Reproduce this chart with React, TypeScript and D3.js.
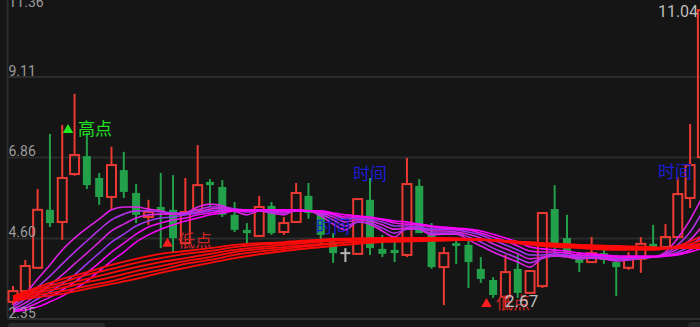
import React from 'react';
import * as d3 from 'd3';

// ---- axis ticks ----
const yTicks = [2.35, 4.6, 6.86, 9.11, 11.36];

// ---- candles (57) ----
const open = [2.83,3.13,3.78,5.40,5.06,6.40,6.90,6.29,5.76,6.51, 5.87,5.20,5.48,5.40,4.47,5.40,6.18,6.04,5.26,4.84, 4.67,5.51,4.78,5.06,5.79,5.31,4.50,4.19,4.17,5.68, 4.31,4.28,4.14,6.07,4.70,3.80,4.47,4.42,3.75,3.44, 2.97,3.75,3.08,3.27,5.42,4.61,4.08,3.94,4.19,3.94, 3.78,4.03,4.45,4.36,4.64,5.73,6.87];
const high = [3.27,4.00,5.98,7.52,7.77,8.64,7.55,6.43,7.16,7.02, 6.12,5.68,6.43,6.37,6.29,7.21,6.26,6.23,5.62,5.03, 5.79,5.62,5.20,6.15,6.15,5.40,4.75,4.33,5.70,6.29, 4.70,4.50,6.85,6.26,5.03,4.36,4.56,4.61,4.08,3.52, 4.14,4.14,3.69,5.31,6.09,5.26,4.22,4.64,4.28,4.14, 4.22,4.64,4.98,5.00,6.32,7.80,11.04];
const low = [2.74,3.10,3.76,4.92,4.56,6.35,5.98,5.54,5.40,5.73, 5.03,4.98,4.33,4.19,4.42,5.31,5.48,5.20,4.78,4.47, 4.67,4.70,4.70,5.03,5.15,4.42,3.92,3.94,4.17,4.14, 4.08,3.94,4.08,4.75,3.75,2.74,3.89,3.22,3.36,2.94, 2.67,2.94,3.08,3.22,4.19,4.14,3.66,3.92,3.89,2.99, 3.72,3.64,4.36,4.36,4.64,5.45,6.85];
const close = [3.13,3.83,5.40,5.03,6.29,6.93,6.09,5.76,6.65,5.90, 5.26,5.34,5.34,4.61,5.34,6.09,6.09,5.26,4.84,4.75, 5.48,4.75,5.03,5.87,5.31,4.70,4.19,4.19,5.70,4.33, 4.17,4.19,6.12,4.75,3.80,4.19,4.39,3.94,3.47,3.02, 3.66,3.08,3.69,5.31,4.45,4.19,3.92,4.19,4.00,3.80, 4.03,4.45,4.36,4.64,5.84,6.65,10.98];

// ---- short-term moving average group (every candle) ----
const maS1 = [2.74,3.05,3.47,3.86,4.28,4.61,4.89,5.14,5.40,5.48, 5.48,5.42,5.37,5.28,5.31,5.48,5.56,5.51,5.37,5.26, 5.37,5.31,5.26,5.40,5.37,5.23,5.00,4.84,5.06,5.00, 4.81,4.64,4.89,4.86,4.70,4.72,4.72,4.56,4.39,4.22, 4.08,3.94,3.80,4.05,4.11,4.08,4.03,4.05,4.03,3.97, 4.00,4.08,4.08,4.22,4.61,5.12,5.76];
const maS2 = [2.69,2.91,3.24,3.55,3.89,4.22,4.53,4.84,5.12,5.28, 5.37,5.37,5.34,5.31,5.31,5.40,5.48,5.48,5.42,5.34, 5.37,5.34,5.31,5.37,5.37,5.28,5.12,4.95,5.06,5.03, 4.89,4.75,4.86,4.86,4.75,4.75,4.75,4.64,4.50,4.33, 4.19,4.05,3.92,4.05,4.11,4.11,4.05,4.05,4.05,4.00, 4.00,4.05,4.08,4.17,4.42,4.78,5.34];
const maS3 = [2.63,2.80,3.05,3.30,3.58,3.89,4.19,4.50,4.81,5.00, 5.17,5.26,5.28,5.28,5.28,5.34,5.42,5.45,5.42,5.37, 5.37,5.37,5.34,5.37,5.37,5.31,5.20,5.06,5.12,5.09, 4.98,4.86,4.89,4.89,4.81,4.81,4.78,4.72,4.61,4.45, 4.31,4.17,4.03,4.08,4.14,4.11,4.08,4.08,4.05,4.03, 4.03,4.05,4.08,4.14,4.31,4.56,4.95];
const maS4 = [2.60,2.71,2.91,3.10,3.33,3.58,3.89,4.19,4.50,4.72, 4.95,5.09,5.17,5.20,5.26,5.31,5.37,5.40,5.42,5.40, 5.40,5.37,5.37,5.37,5.37,5.34,5.26,5.14,5.17,5.12, 5.06,4.95,4.95,4.92,4.86,4.86,4.84,4.78,4.70,4.56, 4.42,4.28,4.14,4.14,4.17,4.14,4.11,4.11,4.08,4.05, 4.05,4.05,4.08,4.11,4.22,4.39,4.67];
const maS5 = [2.57,2.66,2.80,2.96,3.16,3.38,3.64,3.92,4.22,4.47, 4.72,4.92,5.03,5.12,5.17,5.26,5.31,5.37,5.40,5.40, 5.40,5.40,5.37,5.37,5.37,5.34,5.28,5.20,5.20,5.17, 5.12,5.03,5.00,4.98,4.92,4.89,4.86,4.84,4.75,4.64, 4.53,4.39,4.25,4.22,4.22,4.19,4.14,4.14,4.11,4.08, 4.08,4.08,4.08,4.11,4.17,4.28,4.47];
const maS6 = [2.55,2.60,2.69,2.83,2.99,3.19,3.41,3.69,3.97,4.22, 4.50,4.70,4.86,4.98,5.09,5.17,5.26,5.31,5.37,5.37, 5.40,5.40,5.40,5.40,5.37,5.37,5.31,5.26,5.23,5.20, 5.14,5.09,5.06,5.00,4.95,4.92,4.89,4.86,4.81,4.72, 4.61,4.50,4.36,4.31,4.28,4.25,4.19,4.17,4.14,4.11, 4.11,4.11,4.11,4.11,4.14,4.22,4.33];

// ---- long-term moving average group (sampled candles) ----
const maLongIdx = [0,2,4,6,8,10,12,14,16,18,22,26,30,34,37,40,43,46,49,52,54,56];
const maL1 = [2.99,3.24,3.47,3.66,3.86,4.03,4.17,4.25,4.33,4.42,4.50,4.59,4.61,4.61,4.59,4.50,4.39,4.33,4.28,4.28,4.39,4.67];
const maL2 = [2.96,3.19,3.38,3.58,3.75,3.92,4.05,4.17,4.25,4.36,4.47,4.56,4.61,4.61,4.59,4.53,4.42,4.36,4.31,4.31,4.36,4.56];
const maL3 = [2.94,3.13,3.30,3.47,3.64,3.80,3.94,4.05,4.17,4.28,4.42,4.53,4.59,4.61,4.59,4.53,4.45,4.39,4.33,4.31,4.33,4.47];
const maL4 = [2.91,3.08,3.22,3.38,3.52,3.69,3.83,3.97,4.08,4.22,4.36,4.47,4.56,4.59,4.59,4.53,4.45,4.39,4.36,4.33,4.33,4.42];
const maL5 = [2.88,3.02,3.13,3.27,3.41,3.58,3.72,3.89,4.00,4.14,4.31,4.45,4.53,4.56,4.56,4.53,4.47,4.42,4.36,4.33,4.33,4.36];
const maL6 = [2.85,2.96,3.05,3.19,3.33,3.47,3.64,3.78,3.92,4.05,4.25,4.39,4.50,4.53,4.56,4.53,4.47,4.42,4.39,4.36,4.33,4.33];

// ---- annotations (candle index, price) ----
const triIdx = [4.47, 12.55, 38.46];
const triPrice = [7.63, 4.45, 2.77];
const triKind = ['high', 'low', 'low'];
const noteText = ['高点', '低点', '低点', '时间', '时间', '时间'];
const noteIdx = [5.28, 13.4, 39.24, 27.62, 24.61, 52.4];
const notePrice = [7.49, 4.36, 2.63, 6.23, 4.75, 6.29];
const noteKind = ['high', 'low', 'low', 'time', 'time', 'time'];
const valueText = ['2.67', '11.04'];
const valueIdx = [39.97, 55.65];
const valuePrice = [2.69, 10.79];
const valueAnchor = ['start', 'end'];

const W = 700;
const H = 327;
const BG = '#151515';
const GRID = '#2b2b2b';
const RED = '#ec3a33';
const GREEN = '#22a04a';
const DOJI = '#b8b8b8';

export default function App() {
  const x = d3.scaleLinear().domain([0, 56]).range([13, 702.4]);
  const y = d3.scaleLinear().domain([2.35, 11.36]).range([319, -3.5]);

  const shortLines = [maS1, maS2, maS3, maS4, maS5, maS6];
  const shortColors = ['#e020e6', '#b030e8', '#d824e2', '#9c36ec', '#f210f2', '#ff00ff'];
  const longLines = [maL1, maL2, maL3, maL4, maL5, maL6];

  const lineS = d3
    .line<number>()
    .x((_, i) => x(i))
    .y((d) => y(d))
    .curve(d3.curveMonotoneX);
  const lineL = d3
    .line<number>()
    .x((_, i) => x(maLongIdx[i]))
    .y((d) => y(d))
    .curve(d3.curveMonotoneX);

  const tri = d3.symbol().type(d3.symbolTriangle).size(48);

  const noteColor = (k: string) => (k === 'high' ? '#22e022' : k === 'low' ? '#cc2424' : '#1c1cd2');

  return (
    <svg
      width={W}
      height={H}
      style={{ position: 'fixed', left: 0, top: 0, display: 'block', background: BG }}
    >
      <rect x={0} y={0} width={W} height={H} fill={BG} />
      {/* grid */}
      {yTicks.map((t) => (
        <line key={'g' + t} x1={8} x2={W} y1={y(t)} y2={y(t)} stroke={GRID} strokeWidth={2} />
      ))}
      <line x1={7.5} x2={7.5} y1={0} y2={y(2.35)} stroke={GRID} strokeWidth={2} />
      {/* scroll bar */}
      <rect x={8} y={323} width={97} height={8} rx={3} fill="#2a2a2a" />
      <rect x={688} y={322} width={16} height={9} rx={4} fill="#262626" />

      {/* candles */}
      {open.map((o, i) => {
        const c = close[i];
        const cx = x(i);
        const yh = y(high[i]);
        const yl = y(low[i]);
        const top = y(Math.max(o, c));
        const bot = y(Math.min(o, c));
        if (c === o) {
          return (
            <g key={'c' + i} stroke={DOJI} strokeWidth={2}>
              <line x1={cx} x2={cx} y1={yh} y2={yl} />
              <line x1={cx - 5} x2={cx + 5} y1={top} y2={top} />
            </g>
          );
        }
        if (c > o) {
          return (
            <g key={'c' + i} stroke={RED} strokeWidth={2} fill="none">
              <line x1={cx} x2={cx} y1={yh} y2={top} />
              <line x1={cx} x2={cx} y1={bot} y2={yl} />
              <rect x={cx - 4.5} y={top} width={9} height={Math.max(bot - top, 1)} />
            </g>
          );
        }
        return (
          <g key={'c' + i}>
            <line x1={cx} x2={cx} y1={yh} y2={yl} stroke={GREEN} strokeWidth={2} />
            <rect x={cx - 4} y={top} width={8} height={Math.max(bot - top, 2)} fill={GREEN} />
          </g>
        );
      })}

      {/* short MA group */}
      {shortLines.map((s, k) => (
        <path key={'s' + k} d={lineS(s) || ''} fill="none" stroke={shortColors[k]} strokeWidth={1.6} />
      ))}
      {/* long MA group */}
      {longLines.map((s, k) => (
        <path key={'l' + k} d={lineL(s) || ''} fill="none" stroke="#ff0a0a" strokeWidth={1.8} />
      ))}

      {/* axis labels */}
      {yTicks.map((t) => (
        <text
          key={'t' + t}
          x={8.5}
          y={Math.max(y(t) - 1.5, 7)}
          fill="#9c9c9c"
          fontFamily="Roboto, 'DejaVu Sans', sans-serif"
          fontSize={14}
        >
          {t.toFixed(2)}
        </text>
      ))}

      {/* annotations */}
      {triIdx.map((ti, k) => (
        <path
          key={'tri' + k}
          d={tri() || ''}
          transform={`translate(${x(ti)},${y(triPrice[k])})`}
          fill={triKind[k] === 'high' ? '#22e822' : '#ff1c1c'}
        />
      ))}
      {noteText.map((t, k) => (
        <text
          key={'n' + k}
          x={x(noteIdx[k])}
          y={y(notePrice[k])}
          fill={noteColor(noteKind[k])}
          fontFamily="'Noto Sans CJK SC', sans-serif"
          fontSize={17}
        >
          {t}
        </text>
      ))}
      {valueText.map((t, k) => (
        <text
          key={'v' + k}
          x={x(valueIdx[k])}
          y={y(valuePrice[k])}
          textAnchor={valueAnchor[k] as any}
          fill="#bdbdbd"
          fontFamily="Roboto, 'DejaVu Sans', sans-serif"
          fontSize={k === 0 ? 17 : 16}
        >
          {t}
        </text>
      ))}
    </svg>
  );
}
